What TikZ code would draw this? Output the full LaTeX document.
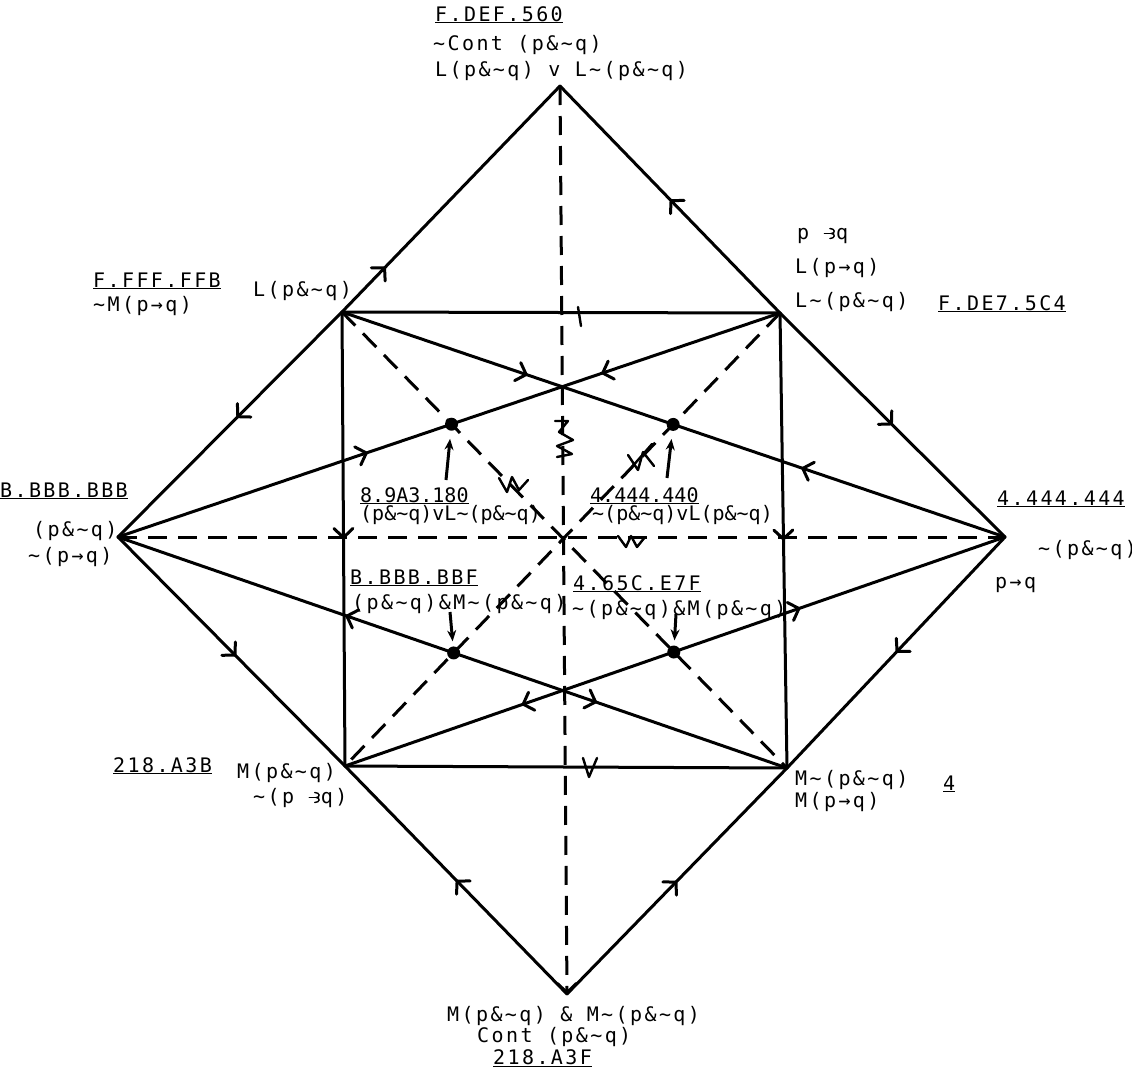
\documentclass[tikz,border=0pt]{standalone}
\usepackage{fontspec}
\usetikzlibrary{positioning,arrows.meta,decorations.markings}
\newfontfamily\outfont{DejaVu Sans Mono}[LetterSpace=12]
\newfontfamily\infont{DejaVu Sans Mono}
\newcommand{\tneg}{\textasciitilde}
\newcommand{\simp}{\tikz[baseline=0pt,x=1pt,y=1pt,line width=1.4pt,line cap=round]{\draw (0,5.5) -- (8,5.5); \draw (5.5,10.5) .. controls (11,10.5) and (11,5.5) .. (7,5.5) .. controls (11,5.5) and (11,0.5) .. (5.5,0.5);}}
\newcommand{\imp}{→}
\tikzstyle{sline}=[-, line width=3pt, line cap=round, line join=round]
\tikzstyle{dline}=[-, line width=3pt, dash pattern=on 19pt off 11pt]
\tikzstyle{olbl}=[inner sep=0pt, anchor=base west, font=\outfont\fontsize{20}{22}\selectfont]
\tikzstyle{ilbl}=[inner sep=0pt, anchor=base west, font=\infont\fontsize{20}{22}\selectfont]
\tikzstyle{dot}=[circle, fill=black, inner sep=0pt, minimum size=13pt]
\tikzstyle{scrib}=[line width=2.4pt, line cap=round, line join=round]
\tikzstyle{ptr}=[line width=3pt, -{Stealth[length=11pt,width=9pt]}]
\tikzset{
  fwd/.style={postaction={decorate,decoration={markings,mark=at position #1 with {\arrow{>}}}}},
  bwd/.style={postaction={decorate,decoration={markings,mark=at position #1 with {\arrow{<}}}}}
}

\begin{document}
\begin{tikzpicture}[x=1pt,y=-1pt,>={Straight Barb[round,length=9pt,width=19pt]}]
\useasboundingbox (0,0) rectangle (1132,1074);

% corners of the figure
\coordinate (T) at (560,86);
\coordinate (Bt) at (567,994);
\coordinate (Lf) at (118,537);
\coordinate (R) at (1005,537);
\coordinate (A) at (342,312);
\coordinate (B) at (780,313);
\coordinate (C) at (345,766);
\coordinate (D) at (787,768);

% outer diamond
\draw[sline, fwd=0.2] (A) -- (T);
\draw[sline, fwd=0.5] (B) -- (T);
\draw[sline, fwd=0.47] (A) -- (Lf);
\draw[sline, fwd=0.5] (B) -- (R);
\draw[sline, fwd=0.52] (Lf) -- (C);
\draw[sline, fwd=0.5] (R) -- (D);
\draw[sline, fwd=0.5] (Bt) -- (C);
\draw[sline, fwd=0.5] (Bt) -- (D);

% square
\draw[sline] (A) -- (B);
\draw[sline] (C) -- (D);
\draw[sline, fwd=0.5] (A) -- (C);
\draw[sline, fwd=0.5] (B) -- (D);

% crossing lines
\draw[sline, fwd=0.28, bwd=0.71] (A) -- (R);
\draw[sline, fwd=0.27, bwd=0.64] (B) -- (Lf);
\draw[sline, bwd=0.285, fwd=0.69] (C) -- (R);
\draw[sline, bwd=0.357, fwd=0.716] (Lf) -- (D);

% dashed axes and diagonals
\draw[dline, ->] (T) -- (Bt);
\draw[dline] (Lf) -- (R);
\draw[dline] (A) -- (D);
\draw[dline] (B) -- (C);

% dots
\node (P1) [dot] at (intersection of A--D and B--Lf) {};
\node (P2) [dot] at (intersection of B--C and A--R) {};
\node (P3) [dot] at (intersection of B--C and Lf--D) {};
\node (P4) [dot] at (intersection of A--D and C--R) {};

\coordinate (p1t) at (446,480);
\coordinate (p2t) at (667,478);
\coordinate (p3t) at (450,612);
\coordinate (p4t) at (676,614);
\draw[ptr, shorten >=8pt] (p1t) -- (P1);
\draw[ptr, shorten >=8pt] (p2t) -- (P2);
\draw[ptr, shorten >=5pt] (p3t) -- (P3);
\draw[ptr, shorten >=5pt] (p4t) -- (P4);

% hand marks
\draw[scrib] (578,307) -- (581,326);
\draw[scrib] (583,758) -- (589,777) -- (597,758);
\draw[scrib] (555,421) -- (568,421) -- (559,432) -- (573,440) -- (557,446) -- (572,454) -- (557,457);
\draw[scrib] (499,478) -- (507,492) -- (512,477) -- (519,490) -- (528,480);
\draw[scrib] (624,476) -- (652,444);
\draw[scrib] (628,455) -- (638,470) -- (643,452) -- (654,466);
\draw[scrib] (618,536) -- (626,547) -- (631,536) -- (637,547) -- (645,537);

% labels, top
\node (tcode) [olbl] at (435,21) {\underline{F.DEF.560}};
\node (tl1) [olbl] at (433,50) {\tneg Cont (p\&\tneg q)};
\node (tl2) [olbl] at (435,76) {L(p\&\tneg q) v L\tneg(p\&\tneg q)};
% upper left
\node (ulcode) [olbl] at (93,287) {\underline{F.FFF.FFB}};
\node (ul1) [olbl] at (93,311) {\tneg M(p\imp q)};
\node (aname) [olbl] at (253,296) {L(p\&\tneg q)};
% upper right
\node (ur1) [olbl] at (797,239) {p \simp q};
\node (ur2) [olbl] at (795,273) {L(p\imp q)};
\node (ur3) [olbl] at (795,307) {L\tneg(p\&\tneg q)};
\node (urcode) [olbl] at (938,310) {\underline{F.DE7.5C4}};
% left
\node (lcode) [olbl] at (0,497) {\underline{B.BBB.BBB}};
\node (lf1) [olbl] at (33,536) {(p\&\tneg q)};
\node (lf2) [olbl] at (28,562) {\tneg(p\imp q)};
% right
\node (rcode) [olbl] at (997,505) {\underline{4.444.444}};
\node (r1) [olbl] at (1038,555) {\tneg(p\&\tneg q)};
\node (r2) [olbl] at (995,588) {p\imp q};
% centre
\node (c1code) [ilbl] at (360,502) {\underline{8.9A3.180}};
\node (c1) [ilbl] at (360,520) {(p\&\tneg q)vL\tneg(p\&\tneg q)};
\node (c2code) [ilbl] at (590,502) {\underline{4.444.440}};
\node (c2) [ilbl] at (592,520) {\tneg(p\&\tneg q)vL(p\&\tneg q)};
\node (c3code) [olbl] at (350,584) {\underline{B.BBB.BBF}};
\node (c3) [olbl] at (352,609) {(p\&\tneg q)\&M\tneg(p\&\tneg q)};
\node (c4code) [olbl] at (573,590) {\underline{4.65C.E7F}};
\node (c4) [olbl] at (572,615) {\tneg(p\&\tneg q)\&M(p\&\tneg q)};
% lower left
\node (llcode) [olbl] at (113,772) {\underline{218.A3B}};
\node (cname) [olbl] at (237,778) {M(p\&\tneg q)};
\node (ll2) [olbl] at (253,803) {\tneg(p \simp q)};
% lower right
\node (dname) [olbl] at (795,785) {M\tneg(p\&\tneg q)};
\node (lr2) [olbl] at (795,807) {M(p\imp q)};
\node (lrcode) [olbl] at (943,790) {\underline{4}};
% bottom
\node (b1) [olbl] at (447,1021) {M(p\&\tneg q) \& M\tneg(p\&\tneg q)};
\node (b2) [olbl] at (477,1042) {Cont (p\&\tneg q)};
\node (bcode) [olbl] at (493,1064) {\underline{218.A3F}};

\end{tikzpicture}
\end{document}
